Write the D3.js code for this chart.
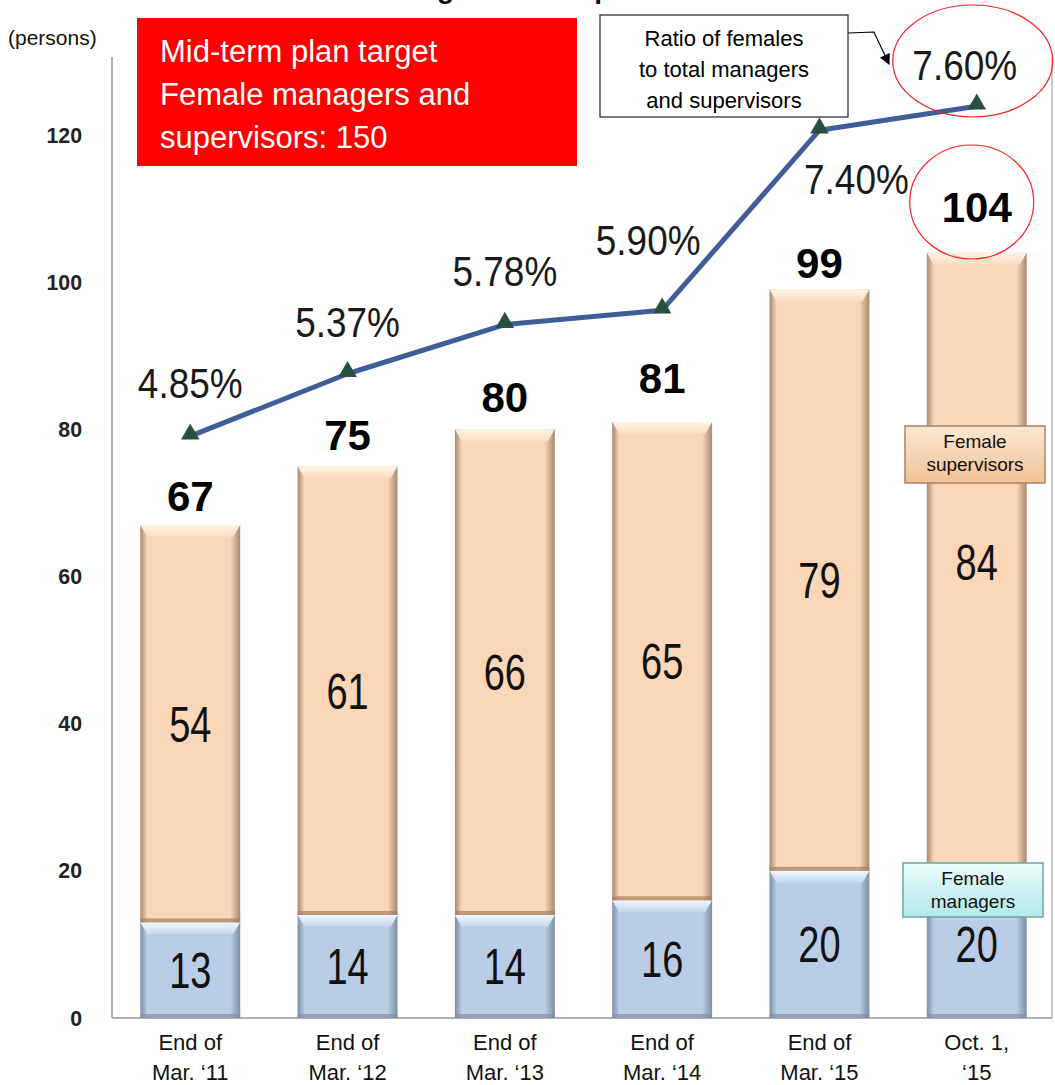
<!DOCTYPE html>
<html>
<head>
<meta charset="utf-8">
<script src="https://cdn.jsdelivr.net/npm/d3@7/dist/d3.min.js"></script>
<style>
  html, body { margin: 0; padding: 0; background: #ffffff; }
  svg { display: block; }
</style>
</head>
<body>
<svg id="chart" width="1055" height="1085"></svg>
<script>
// Periods on the x axis (two lines each)
const periods = [
  ["End of", "Mar. \u201811"],
  ["End of", "Mar. \u201812"],
  ["End of", "Mar. \u201813"],
  ["End of", "Mar. \u201814"],
  ["End of", "Mar. \u201815"],
  ["Oct. 1,", "\u201815"]
];
// Female managers (bottom segment) and female supervisors (top segment), persons
const managers    = [13, 14, 14, 16, 20, 20];
const supervisors = [54, 61, 66, 65, 79, 84];
// Totals shown above the bars
const totals      = [67, 75, 80, 81, 99, 104];
// Ratio of females to total managers and supervisors, %
const ratios      = [4.85, 5.37, 5.78, 5.90, 7.40, 7.60];
// Left axis ticks
const yTicks      = [0, 20, 40, 60, 80, 100, 120];

const svg = d3.select("#chart");

const plot = { left: 112, right: 1052, top: 57, bottom: 1018 };

const x = d3.scaleBand()
  .domain(d3.range(periods.length))
  .range([plot.left, 1055])
  .paddingInner(0.365)
  .paddingOuter(0.18);

const y = d3.scaleLinear().domain([0, 120]).range([plot.bottom, 135]);
// secondary scale for the ratio line
const yr = d3.scaleLinear().domain([0, 7.36]).range([plot.bottom, 135]);

const defs = svg.append("defs");

function sideGradient(id, edge, mid) {
  const g = defs.append("linearGradient").attr("id", id)
    .attr("x1", 0).attr("x2", 1).attr("y1", 0).attr("y2", 0);
  g.append("stop").attr("offset", "0%").attr("stop-color", edge);
  g.append("stop").attr("offset", "7%").attr("stop-color", mid);
  g.append("stop").attr("offset", "90%").attr("stop-color", mid);
  g.append("stop").attr("offset", "100%").attr("stop-color", edge);
}
sideGradient("gradSup", "#a8876f", "#fbd6b7");
sideGradient("gradMgr", "#7c8ea6", "#b9cde6");

function vGradient(id, top, bottom) {
  const g = defs.append("linearGradient").attr("id", id)
    .attr("x1", 0).attr("x2", 0).attr("y1", 0).attr("y2", 1);
  g.append("stop").attr("offset", "0%").attr("stop-color", top);
  g.append("stop").attr("offset", "100%").attr("stop-color", bottom);
}
vGradient("bevelSup", "#fff3e6", "#fbdcc0");
vGradient("bevelMgr", "#f2f7fd", "#c4d6ec");
vGradient("legSup", "#fde7d2", "#f0c296");
vGradient("legMgr", "#eafcfc", "#b2e9ea");

// Axis frame
svg.append("line")
  .attr("x1", plot.left).attr("x2", plot.left)
  .attr("y1", plot.top).attr("y2", plot.bottom)
  .attr("stroke", "#b0b0b0").attr("stroke-width", 2);
svg.append("line")
  .attr("x1", plot.right).attr("x2", plot.right)
  .attr("y1", plot.top).attr("y2", plot.bottom)
  .attr("stroke", "#c8c8c8").attr("stroke-width", 2);
svg.append("line")
  .attr("x1", plot.left).attr("x2", plot.right)
  .attr("y1", plot.bottom).attr("y2", plot.bottom)
  .attr("stroke", "#b0b0b0").attr("stroke-width", 2);

// Left axis tick labels
const yAxis = d3.axisLeft(y).tickValues(yTicks).tickSize(0).tickPadding(0);
const yg = svg.append("g").attr("transform", "translate(82,0)").call(yAxis);
yg.select(".domain").remove();
yg.selectAll("text")
  .attr("font-family", "'Liberation Sans', Arial, sans-serif")
  .attr("font-weight", "bold")
  .attr("font-size", 22)
  .attr("fill", "#222")
  .attr("transform", "scale(0.97,1)");

svg.append("text")
  .attr("x", 8).attr("y", 45)
  .attr("font-family", "'Liberation Sans', Arial, sans-serif")
  .attr("font-size", 21)
  .attr("fill", "#111")
  .text("(persons)");

// Title line, mostly above the visible area
svg.append("text")
  .attr("x", 490).attr("y", -2)
  .attr("text-anchor", "middle")
  .attr("font-family", "'Liberation Sans', Arial, sans-serif")
  .attr("font-weight", "bold")
  .attr("font-size", 28)
  .attr("fill", "#111")
  .text("Female managers and supervisors");

// A bevelled bar segment
function segment(g, x0, w, yTop, yBot, fillId, bevelId, edge) {
  const h = yBot - yTop;
  g.append("rect")
    .attr("x", x0).attr("y", yTop).attr("width", w).attr("height", h)
    .attr("fill", `url(#${fillId})`);
  const b = Math.min(12, h / 3);
  g.append("path")
    .attr("d", `M${x0},${yTop} L${x0 + w},${yTop} L${x0 + w - 7},${yTop + b} L${x0 + 7},${yTop + b} Z`)
    .attr("fill", `url(#${bevelId})`);
  g.append("rect")
    .attr("x", x0).attr("y", yBot - 4).attr("width", w).attr("height", 4)
    .attr("fill", edge).attr("opacity", 0.7);
}

const bw = x.bandwidth();
const bars = svg.append("g");
periods.forEach((p, i) => {
  const x0 = x(i);
  segment(bars, x0, bw, y(managers[i]), y(0), "gradMgr", "bevelMgr", "#7f90a6");
  segment(bars, x0, bw, y(managers[i] + supervisors[i]), y(managers[i]), "gradSup", "bevelSup", "#a57f63");
});

// Condensed numeric text: Liberation Sans squeezed horizontally
function narrowText(g, cx, cy, str, size, squeeze) {
  return g.append("text")
    .attr("transform", `translate(${cx},${cy}) scale(${squeeze},1)`)
    .attr("font-size", size)
    .text(str);
}

// Segment value labels
const segLabels = svg.append("g")
  .attr("font-family", "'Liberation Sans', Arial, sans-serif")
  .attr("fill", "#111")
  .attr("text-anchor", "middle");
periods.forEach((p, i) => {
  const cx = x(i) + bw / 2;
  narrowText(segLabels, cx, y(managers[i] / 2) + 18, managers[i], 50, 0.76);
  narrowText(segLabels, cx, y(managers[i] + supervisors[i] / 2) + 18, supervisors[i], 50, 0.76);
});

// Totals above bars
const totalLift = [14, 16, 17, 29, 12, 31];
const totG = svg.append("g")
  .attr("font-family", "'Liberation Sans', Arial, sans-serif")
  .attr("font-weight", "bold")
  .attr("font-size", 42)
  .attr("fill", "#000")
  .attr("text-anchor", "middle");
periods.forEach((p, i) => {
  totG.append("text")
    .attr("x", x(i) + bw / 2)
    .attr("y", y(totals[i]) - totalLift[i])
    .text(totals[i]);
});

// Ratio line
const lineGen = d3.line()
  .x((d, i) => x(i) + bw / 2)
  .y(d => yr(d));
svg.append("path")
  .datum(ratios)
  .attr("d", lineGen)
  .attr("fill", "none")
  .attr("stroke", "#3f5e98")
  .attr("stroke-width", 5)
  .attr("stroke-linejoin", "round");

const tri = d3.symbol().type(d3.symbolTriangle).size(150);
svg.append("g").selectAll("path")
  .data(ratios)
  .join("path")
  .attr("transform", (d, i) => `translate(${x(i) + bw / 2},${yr(d) - 2})`)
  .attr("d", tri)
  .attr("fill", "#27503f");

// Ratio labels
const ratioPos = [[0, -38], [0, -37], [0, -39], [-14, -55], [37, 64], [-12, -26]];
const ratioG = svg.append("g")
  .attr("font-family", "'Liberation Sans', Arial, sans-serif")
  .attr("fill", "#1a1a1a")
  .attr("text-anchor", "middle");
ratios.forEach((r, i) => {
  narrowText(ratioG, x(i) + bw / 2 + ratioPos[i][0], yr(r) + ratioPos[i][1],
    r.toFixed(2) + "%", 43, 0.86);
});

// Highlight ellipses on the latest values
const last = ratios.length - 1;
svg.append("ellipse")
  .attr("cx", x(last) + bw / 2 - 4).attr("cy", 61)
  .attr("rx", 80).attr("ry", 56)
  .attr("fill", "none").attr("stroke", "#ff2020").attr("stroke-width", 1.2);
svg.append("ellipse")
  .attr("cx", x(last) + bw / 2 - 5).attr("cy", 202)
  .attr("rx", 62).attr("ry", 57)
  .attr("fill", "none").attr("stroke", "#ff2020").attr("stroke-width", 1.2);

// Target box
svg.append("rect")
  .attr("x", 137).attr("y", 18).attr("width", 440).attr("height", 148)
  .attr("fill", "#ff0000");
const targetLines = ["Mid-term plan target", "Female managers and", "supervisors: 150"];
svg.append("g")
  .attr("font-family", "'Liberation Sans', Arial, sans-serif")
  .attr("font-size", 31)
  .attr("fill", "#ffffff")
  .selectAll("text")
  .data(targetLines)
  .join("text")
  .attr("x", 160)
  .attr("y", (d, i) => 62 + i * 43)
  .text(d => d);

// Ratio callout box with arrow
defs.append("marker")
  .attr("id", "arrowHead")
  .attr("viewBox", "0 0 10 10")
  .attr("refX", 9).attr("refY", 5)
  .attr("markerWidth", 9).attr("markerHeight", 9)
  .attr("orient", "auto")
  .append("path").attr("d", "M0,0 L10,5 L0,10 Z").attr("fill", "#000");
svg.append("path")
  .attr("d", "M848,33 L874,32 L889,64")
  .attr("fill", "none").attr("stroke", "#000").attr("stroke-width", 1.2)
  .attr("marker-end", "url(#arrowHead)");
svg.append("rect")
  .attr("x", 600).attr("y", 15).attr("width", 248).attr("height", 102)
  .attr("fill", "#ffffff").attr("stroke", "#222").attr("stroke-width", 1.2);
const calloutLines = ["Ratio of females", "to total managers", "and supervisors"];
svg.append("g")
  .attr("font-family", "'Liberation Sans', Arial, sans-serif")
  .attr("font-size", 22)
  .attr("fill", "#000")
  .attr("text-anchor", "middle")
  .selectAll("text")
  .data(calloutLines)
  .join("text")
  .attr("x", 724)
  .attr("y", (d, i) => 46 + i * 31)
  .text(d => d);

// Series legend tags on the last bar
function legendTag(cx, yTop, w, h, fillId, edge, lines) {
  const g = svg.append("g");
  g.append("rect")
    .attr("x", cx - w / 2).attr("y", yTop).attr("width", w).attr("height", h)
    .attr("fill", `url(#${fillId})`).attr("stroke", edge).attr("stroke-width", 1.5);
  g.selectAll("text").data(lines).join("text")
    .attr("x", cx).attr("y", (d, i) => yTop + 22 + i * 23)
    .attr("text-anchor", "middle")
    .attr("font-family", "'Liberation Sans', Arial, sans-serif")
    .attr("font-size", 19)
    .attr("fill", "#111")
    .text(d => d);
}
legendTag(975, 426, 140, 57, "legSup", "#a98266", ["Female", "supervisors"]);
legendTag(973, 863, 140, 54, "legMgr", "#6fa3a5", ["Female", "managers"]);

// X axis labels
const xg = svg.append("g")
  .attr("font-family", "'Liberation Sans', Arial, sans-serif")
  .attr("font-size", 22)
  .attr("fill", "#111")
  .attr("text-anchor", "middle");
periods.forEach((p, i) => {
  p.forEach((line, j) => {
    xg.append("text")
      .attr("x", x(i) + bw / 2)
      .attr("y", 1050 + j * 30)
      .text(line);
  });
});
</script>
</body>
</html>
